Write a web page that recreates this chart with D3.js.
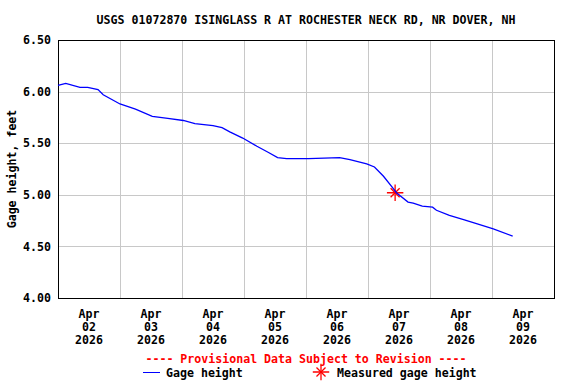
<!DOCTYPE html>
<html>
<head>
<meta charset="utf-8">
<script src="https://cdn.jsdelivr.net/npm/d3@7"></script>
<style>
  body { margin: 0; background: #fff; }
  text { font-family: "DejaVu Sans Mono", monospace; font-weight: bold; font-size: 11.6px; }
</style>
</head>
<body>
<div id="vis"></div>
<script>
// gage height readings (local time) and values in feet
const times = [
    "2026-04-02 00:00", "2026-04-02 03:00", "2026-04-02 08:30", "2026-04-02 11:30",
    "2026-04-02 15:30", "2026-04-02 17:30", "2026-04-03 00:00", "2026-04-03 06:00",
    "2026-04-03 12:30", "2026-04-03 18:30", "2026-04-04 00:30", "2026-04-04 05:00",
    "2026-04-04 12:00", "2026-04-04 15:30", "2026-04-04 18:30", "2026-04-04 23:30",
    "2026-04-05 05:00", "2026-04-05 09:30", "2026-04-05 13:00", "2026-04-05 16:30",
    "2026-04-06 01:00", "2026-04-06 13:00", "2026-04-06 17:00", "2026-04-06 23:30",
    "2026-04-07 02:30", "2026-04-07 06:00", "2026-04-07 09:30", "2026-04-07 11:00",
    "2026-04-07 15:30", "2026-04-07 17:30", "2026-04-07 21:00", "2026-04-08 01:00",
    "2026-04-08 02:30", "2026-04-08 07:30", "2026-04-08 13:00", "2026-04-08 18:00",
    "2026-04-09 00:30", "2026-04-09 08:00"
];
const gage = [
    6.06, 6.08, 6.04, 6.04,
    6.02, 5.97, 5.88, 5.83,
    5.76, 5.74, 5.72, 5.69,
    5.67, 5.65, 5.61, 5.55,
    5.47, 5.41, 5.36, 5.35,
    5.35, 5.36, 5.34, 5.30,
    5.27, 5.18, 5.07, 5.02,
    4.93, 4.92, 4.89, 4.88,
    4.85, 4.80, 4.76, 4.72,
    4.67, 4.60
];
const measuredTimes = ["2026-04-07 10:30"];
const measuredValues = [5.02];

const yTicks = [4.0, 4.5, 5.0, 5.5, 6.0, 6.5];
const dayLabels = ["2026-04-02", "2026-04-03", "2026-04-04", "2026-04-05",
    "2026-04-06", "2026-04-07", "2026-04-08", "2026-04-09"];

const margin = { top: 40, right: 22, bottom: 86, left: 58 };
const W = 576, H = 384;
const width = W - margin.left - margin.right;
const height = H - margin.top - margin.bottom;

const parseTime = d3.timeParse("%Y-%m-%d %H:%M");
const parseDay = d3.timeParse("%Y-%m-%d");
const data = times.map((t, i) => ({ t: parseTime(t), v: gage[i] }));
const measured = measuredTimes.map((t, i) => ({ t: parseTime(t), v: measuredValues[i] }));

const svg = d3.select("#vis").append("svg")
    .attr("width", W)
    .attr("height", H);

const g = svg.append("g")
    .attr("transform", `translate(${margin.left},${margin.top})`);

const x = d3.scaleTime()
    .domain([parseDay("2026-04-02"), parseDay("2026-04-10")])
    .range([0, width]);
const y = d3.scaleLinear()
    .domain([4, 6.5])
    .range([height, 0]);

// gridlines
const midnights = d3.timeDay.range(parseDay("2026-04-03"), parseDay("2026-04-10"));
g.append("g").selectAll("line")
    .data(midnights)
    .enter().append("line")
    .attr("x1", d => Math.round(x(d)) + 0.5)
    .attr("x2", d => Math.round(x(d)) + 0.5)
    .attr("y1", 0).attr("y2", height)
    .attr("stroke", "#c8c8c8");
g.append("g").selectAll("line")
    .data(yTicks.slice(1, -1))
    .enter().append("line")
    .attr("x1", 0).attr("x2", width)
    .attr("y1", d => Math.round(y(d)) + 0.5)
    .attr("y2", d => Math.round(y(d)) + 0.5)
    .attr("stroke", "#c8c8c8");

// y axis labels
const yAxis = d3.axisLeft(y).tickValues(yTicks).tickFormat(d3.format(".2f")).tickSize(0).tickPadding(7);
g.append("g").call(yAxis)
    .call(a => a.select(".domain").remove())
    .selectAll("text")
    .attr("fill", "#000")
    .style("font-size", "11.6px");

// x labels at noon of each day
const noons = dayLabels.map(d => d3.timeHour.offset(parseDay(d), 12));
const fmtDay = d3.timeFormat("%d");
const xLab = g.append("g").selectAll("text")
    .data(noons)
    .enter().append("text")
    .attr("x", d => x(d))
    .attr("y", height + 20)
    .attr("text-anchor", "middle");
xLab.append("tspan").attr("x", d => x(d)).text("Apr");
xLab.append("tspan").attr("x", d => x(d)).attr("dy", 13).text(d => fmtDay(d));
xLab.append("tspan").attr("x", d => x(d)).attr("dy", 13).text("2026");

// plot border
g.append("rect")
    .attr("x", 0.5).attr("y", 0.5)
    .attr("width", width).attr("height", height)
    .attr("fill", "none")
    .attr("stroke", "#000");

function drawStar(sel) {
    sel.append("path").attr("d", d3.symbol(d3.symbolPlus, 90))
        .attr("fill", "none").attr("stroke", "#f00").attr("stroke-width", 1.3);
    sel.append("path").attr("d", d3.symbol(d3.symbolTimes, 55))
        .attr("fill", "none").attr("stroke", "#f00").attr("stroke-width", 1.3);
}

// measured gage height
g.append("g").selectAll("g")
    .data(measured)
    .enter().append("g")
    .attr("transform", d => `translate(${x(d.t)},${y(d.v)})`)
    .call(drawStar);

// gage height line
const line = d3.line()
    .x(d => x(d.t))
    .y(d => y(d.v));
g.append("path")
    .datum(data)
    .attr("fill", "none")
    .attr("stroke", "#0000ff")
    .attr("stroke-width", 1.3)
    .attr("d", line);

// title
svg.append("text")
    .attr("x", margin.left + width / 2)
    .attr("y", 24)
    .attr("text-anchor", "middle")
    .text("USGS 01072870 ISINGLASS R AT ROCHESTER NECK RD, NR DOVER, NH");

// y axis title
svg.append("text")
    .attr("transform", `translate(16,${margin.top + height / 2}) rotate(-90)`)
    .attr("text-anchor", "middle")
    .text("Gage height, feet");

// provisional note
svg.append("text")
    .attr("x", margin.left + width / 2)
    .attr("y", 363)
    .attr("text-anchor", "middle")
    .attr("fill", "#f00")
    .text("---- Provisional Data Subject to Revision ----");

// legend
svg.append("line")
    .attr("x1", 143).attr("x2", 160)
    .attr("y1", 372.5).attr("y2", 372.5)
    .attr("stroke", "#0000ff");
svg.append("text").attr("x", 166).attr("y", 377).text("Gage height");
svg.append("g").attr("transform", "translate(321,372)").call(drawStar);
svg.append("text").attr("x", 337).attr("y", 377).text("Measured gage height");
</script>
</body>
</html>
